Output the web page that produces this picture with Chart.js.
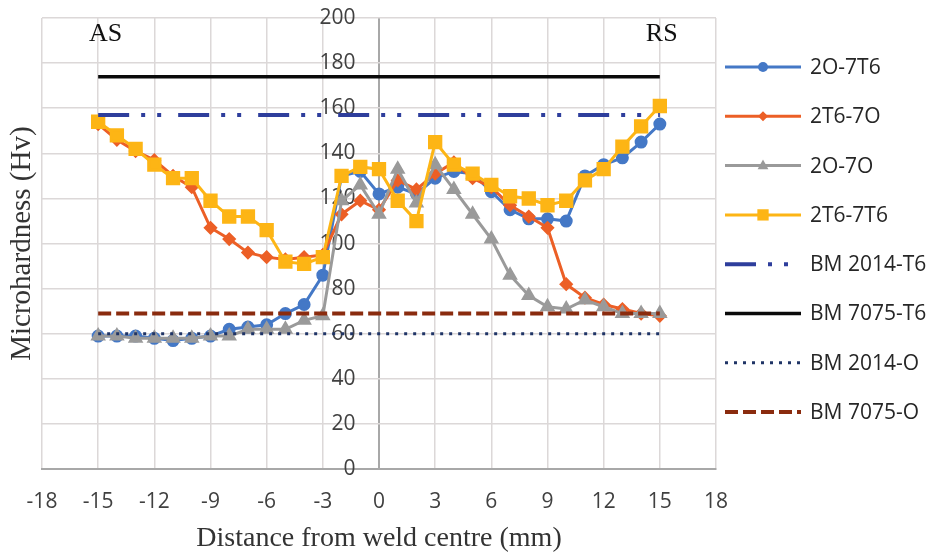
<!DOCTYPE html>
<html>
<head>
<meta charset="utf-8">
<script src="https://cdn.jsdelivr.net/npm/chart.js@4.4.1/dist/chart.umd.min.js"></script>
<style>
html, body { margin: 0; padding: 0; background: #fff; }
#wrap { width: 941px; height: 556px; }
</style>
</head>
<body>
<div id="wrap"><canvas id="myChart" width="941" height="556"></canvas></div>
<script>
// distance from weld centre (mm)
const distance = [-15, -14, -13, -12, -11, -10, -9, -8, -7, -6, -5, -4, -3, -2, -1, 0,
                  1, 2, 3, 4, 5, 6, 7, 8, 9, 10, 11, 12, 13, 14, 15];

// microhardness (Hv) per joint
const o2t7 = [59, 59, 59, 58, 57, 58, 59, 62, 63, 64, 69, 73, 86, 130, 132, 122,
              125, 122, 129, 132, 131, 123, 115, 111, 111, 110, 130, 135, 138, 145, 153];
const t2o7 = [153, 146, 141, 137, 130, 125, 107, 102, 96, 94, 93, 94, 95, 113, 119, 115,
              128, 124, 131, 136, 129, 125, 117, 112, 107, 82, 76, 73, 71, 69, 68];
const o2o7 = [59, 59, 58, 58, 58, 58, 59, 59, 62, 62, 62, 66, 68, 119, 126, 113,
              133, 118, 135, 124, 113, 102, 86, 77, 72, 71, 75, 72, 69, 69, 69];
const t2t7 = [154, 148, 142, 135, 129, 129, 119, 112, 112, 106, 92, 91, 94, 130, 134, 133,
              119, 110, 145, 135, 131, 126, 121, 120, 117, 119, 128, 133, 143, 152, 161];

// base metal levels
const bmRange = [-15, 15];
const bm2014T6 = 157;
const bm7075T6 = 174;
const bm2014O = 60;
const bm7075O = 69;

const xTicks = { min: -18, max: 18, step: 3 };
const yTicks = { min: 0, max: 200, step: 20 };

var ctx = document.getElementById('myChart').getContext('2d');

function pts(values) {
    return values.map((v, i) => ({ x: distance[i], y: v }));
}
function level(v) {
    return bmRange.map(x => ({ x: x, y: v }));
}

function drawMarker(c, style, x, y, r, color) {
    c.save();
    c.fillStyle = color;
    c.beginPath();
    if (style === 'circle') {
        c.arc(x, y, r, 0, Math.PI * 2);
    } else if (style === 'rectRot') {
        c.moveTo(x, y - r); c.lineTo(x + r, y); c.lineTo(x, y + r); c.lineTo(x - r, y);
        c.closePath();
    } else if (style === 'triangle') {
        c.moveTo(x, y - r); c.lineTo(x + r * 0.9, y + r * 0.6); c.lineTo(x - r * 0.9, y + r * 0.6);
        c.closePath();
    } else if (style === 'rect') {
        const s = r * Math.SQRT1_2;
        c.rect(x - s, y - s, s * 2, s * 2);
    }
    c.fill();
    c.restore();
}

const sideLegend = {
    id: 'sideLegend',
    afterDraw(chart) {
        const c = chart.ctx;
        const left = chart.chartArea.right + 9;
        chart.data.datasets.forEach((ds, i) => {
            const y = 67 + i * 49.3;
            c.save();
            c.strokeStyle = ds.borderColor;
            c.lineWidth = ds.borderWidth;
            c.setLineDash(ds.borderDash || []);
            c.beginPath();
            c.moveTo(left, y);
            c.lineTo(left + 76, y);
            c.stroke();
            c.restore();
            if (ds.pointRadius > 0) {
                drawMarker(c, ds.pointStyle, left + 38, y, ds.pointRadius, ds.borderColor);
            }
            c.save();
            c.fillStyle = '#262626';
            c.font = '21px "Open Sans"';
            c.textBaseline = 'middle';
            c.fillText(ds.label, left + 85, y + 1);
            c.restore();
        });
    }
};

const sideText = {
    id: 'sideText',
    afterDraw(chart) {
        const c = chart.ctx;
        const xs = chart.scales.x, ys = chart.scales.y;
        c.save();
        c.fillStyle = '#111';
        c.font = '26px "Liberation Serif"';
        c.textAlign = 'center';
        c.textBaseline = 'alphabetic';
        c.fillText('AS', xs.getPixelForValue(-14.6), ys.getPixelForValue(190));
        c.fillText('RS', xs.getPixelForValue(15.1), ys.getPixelForValue(190));
        c.translate(22, (chart.chartArea.top + chart.chartArea.bottom) / 2);
        c.rotate(-Math.PI / 2);
        c.fillStyle = '#333';
        c.font = '29px "Liberation Serif"';
        c.textBaseline = 'middle';
        c.fillText('Microhardness (Hv)', 0, 0);
        c.restore();
    }
};

const chart = new Chart(ctx, {
    type: 'line',
    data: {
        datasets: [
            { label: '2O-7T6', data: pts(o2t7), borderColor: '#4478C6', backgroundColor: '#4478C6',
              borderWidth: 3, pointStyle: 'circle', pointRadius: 5, order: 7 },
            { label: '2T6-7O', data: pts(t2o7), borderColor: '#EC5F26', backgroundColor: '#EC5F26',
              borderWidth: 3, pointStyle: 'rectRot', pointRadius: 5, order: 6 },
            { label: '2O-7O', data: pts(o2o7), borderColor: '#9A9A9A', backgroundColor: '#9A9A9A',
              borderWidth: 3, pointStyle: 'triangle', pointRadius: 6, order: 5 },
            { label: '2T6-7T6', data: pts(t2t7), borderColor: '#FDB515', backgroundColor: '#FDB515',
              borderWidth: 3, pointStyle: 'rect', pointRadius: 8, order: 4 },
            { label: 'BM 2014-T6', data: level(bm2014T6), borderColor: '#2E3E9C',
              borderWidth: 4, borderDash: [31, 12, 4, 12, 4, 17], pointRadius: 0, order: 0 },
            { label: 'BM 7075-T6', data: level(bm7075T6), borderColor: '#0a0a0a',
              borderWidth: 3.5, pointRadius: 0, order: 1 },
            { label: 'BM 2014-O', data: level(bm2014O), borderColor: '#1F3466',
              borderWidth: 3, borderDash: [3, 6], pointRadius: 0, order: 2 },
            { label: 'BM 7075-O', data: level(bm7075O), borderColor: '#8A2B0E',
              borderWidth: 4, borderDash: [13, 5], pointRadius: 0, order: 3 }
        ]
    },
    options: {
        responsive: false,
        animation: false,
        devicePixelRatio: 1,
        layout: { padding: { left: 42, right: 225, top: 18, bottom: 1 } },
        elements: { line: { tension: 0 } },
        plugins: {
            legend: { display: false },
            tooltip: { enabled: false }
        },
        scales: {
            x: {
                type: 'linear',
                min: xTicks.min,
                max: xTicks.max,
                ticks: {
                    stepSize: xTicks.step,
                    padding: 20,
                    color: '#404040',
                    font: { family: 'Open Sans', size: 21 }
                },
                grid: {
                    color: c => (c.tick && c.tick.value === 0) ? '#a8a8a8' : '#dcd8d8',
                    lineWidth: c => (c.tick && c.tick.value === 0) ? 2 : 1.5,
                    drawTicks: false
                },
                border: { color: '#a8a8a8', width: 2 },
                title: {
                    display: true,
                    text: 'Distance from weld centre (mm)',
                    color: '#333',
                    font: { family: 'Liberation Serif', size: 28 },
                    padding: { top: -13, bottom: 0 }
                }
            },
            y: {
                position: { x: -1.25 },
                min: yTicks.min,
                max: yTicks.max,
                ticks: {
                    stepSize: yTicks.step,
                    padding: 0,
                    color: '#404040',
                    font: { family: 'Open Sans', size: 21 }
                },
                grid: { color: '#dcd8d8', lineWidth: 1.5, drawTicks: false },
                border: { display: false }
            }
        }
    },
    plugins: [sideLegend, sideText]
});
</script>
</body>
</html>
